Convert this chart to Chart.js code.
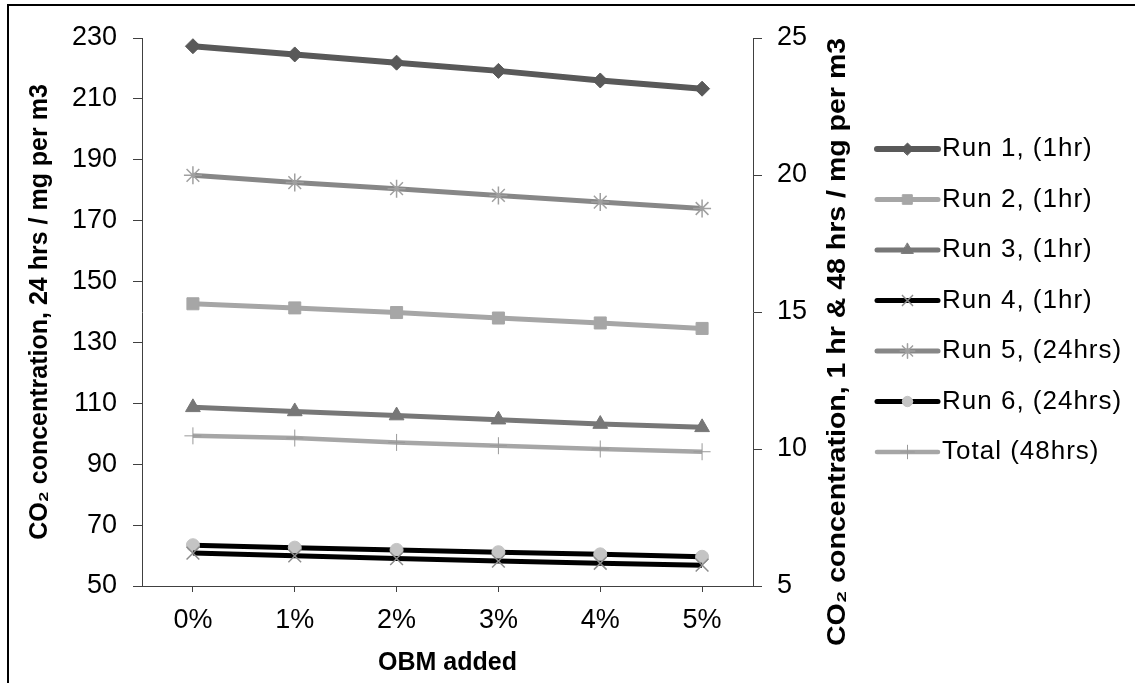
<!DOCTYPE html>
<html>
<head>
<meta charset="utf-8">
<title>CO2 concentration vs OBM added</title>
<script src="https://cdn.jsdelivr.net/npm/chart.js@4.4.1/dist/chart.umd.min.js"></script>
<style>
    html, body { margin: 0; padding: 0; background: #fff; }
    #wrap { width: 1135px; height: 683px; }
</style>
</head>
<body>
<div id="wrap"><canvas id="co2Chart" width="1135" height="683"></canvas></div>
<script>
    // Categories (OBM added)
    const categories = ['0%', '1%', '2%', '3%', '4%', '5%'];

    // 1 hr / 48 hrs series -> right axis
    const run1 = [24.7, 24.4, 24.1, 23.8, 23.45, 23.15];
    const run2 = [15.3, 15.15, 14.98, 14.78, 14.6, 14.4];
    const run3 = [11.52, 11.37, 11.22, 11.07, 10.91, 10.79];
    const run4 = [6.2, 6.1, 6.0, 5.91, 5.83, 5.76];
    const total48 = [10.48, 10.4, 10.24, 10.12, 10.0, 9.9];

    // 24 hrs series -> left axis
    const run5 = [184.9, 182.5, 180.5, 178.3, 176.1, 174.0];
    const run6 = [63.4, 62.6, 61.85, 61.1, 60.4, 59.6];

    // Axis ranges: [min, max, step]
    const leftAxisTicks = [50, 230, 20];
    const rightAxisTicks = [5, 25, 5];

    const leftTitle = 'CO\u2082 concentration, 24 hrs / mg per m3';
    const rightTitle = 'CO\u2082 concentration, 1 hr & 48 hrs / mg per m3';
    const xTitle = 'OBM added';

    const FONT = 'Liberation Sans, Arial, sans-serif';
    const AXIS = '#404040';

    function series(label, data, axis, line, width, style, radius, fill, stroke, pw) {
        return {
            label: label,
            data: data,
            yAxisID: axis,
            borderColor: line,
            borderWidth: width,
            pointStyle: style,
            pointRadius: radius,
            pointBackgroundColor: fill,
            pointBorderColor: stroke,
            pointBorderWidth: pw,
            tension: 0,
            fill: false
        };
    }

    const datasets = [
        series('Run 1, (1hr)', run1, 'yR', '#595959', 6, 'rectRot', 7.5, '#595959', '#595959', 1),
        series('Run 2, (1hr)', run2, 'yR', '#a6a6a6', 5, 'rect', 8.5, '#a6a6a6', '#a6a6a6', 1),
        series('Run 3, (1hr)', run3, 'yR', '#777777', 5, 'triangle', 8.5, '#777777', '#777777', 1),
        series('Run 4, (1hr)', run4, 'yR', '#000000', 5, 'crossRot', 9, '#8c8c8c', '#8c8c8c', 1.5),
        series('Run 5, (24hrs)', run5, 'yL', '#878787', 5, 'star', 9, '#a0a0a0', '#a0a0a0', 1.5),
        series('Run 6, (24hrs)', run6, 'yL', '#000000', 5, 'circle', 6.5, '#c4c4c4', '#c4c4c4', 1),
        series('Total (48hrs)', total48, 'yR', '#a6a6a6', 4.5, 'cross', 8.5, '#999999', '#999999', 1)
    ];

    // Frame, right-hand title and the side legend
    const decorPlugin = {
        id: 'decor',
        beforeDraw(chart) {
            const ctx = chart.ctx;
            ctx.save();
            ctx.fillStyle = '#fff';
            ctx.fillRect(0, 0, chart.width, chart.height);
            ctx.strokeStyle = '#000';
            ctx.lineWidth = 2;
            ctx.beginPath();
            ctx.moveTo(8, chart.height + 5);
            ctx.lineTo(8, 5);
            ctx.lineTo(chart.width + 5, 5);
            ctx.stroke();
            ctx.restore();
        },
        afterDraw(chart) {
            const ctx = chart.ctx;

            // right axis title, reading bottom to top (slightly wider, like the original)
            ctx.save();
            ctx.translate(838, 342);
            ctx.rotate(-Math.PI / 2);
            ctx.scale(1.14, 1);
            ctx.font = 'bold 25px ' + FONT;
            ctx.fillStyle = '#000';
            ctx.textAlign = 'center';
            ctx.textBaseline = 'middle';
            ctx.fillText(rightTitle, 0, 0);
            ctx.restore();

            // legend
            const x0 = 877, x1 = 938, tx = 942;
            chart.data.datasets.forEach((ds, i) => {
                const y = 149 + i * 50.5;
                ctx.save();
                ctx.strokeStyle = ds.borderColor;
                ctx.lineWidth = ds.borderWidth;
                ctx.lineCap = 'round';
                ctx.beginPath();
                ctx.moveTo(x0, y);
                ctx.lineTo(x1, y);
                ctx.stroke();
                if (Chart.helpers && Chart.helpers.drawPoint) {
                    ctx.fillStyle = ds.pointBackgroundColor;
                    ctx.strokeStyle = ds.pointBorderColor;
                    ctx.lineWidth = ds.pointBorderWidth;
                    Chart.helpers.drawPoint(ctx, {
                        pointStyle: ds.pointStyle,
                        radius: ds.pointRadius * 0.8,
                        borderWidth: ds.pointBorderWidth,
                        rotation: 0
                    }, (x0 + x1) / 2, y);
                }
                ctx.font = '26px ' + FONT;
                ctx.letterSpacing = '1px';
                ctx.fillStyle = '#000';
                ctx.textAlign = 'left';
                ctx.textBaseline = 'middle';
                ctx.fillText(ds.label, tx, y);
                ctx.restore();
            });
        }
    };

    const ctx = document.getElementById('co2Chart').getContext('2d');
    const chart = new Chart(ctx, {
        type: 'line',
        data: {
            labels: categories,
            datasets: datasets
        },
        options: {
            responsive: false,
            animation: false,
            devicePixelRatio: 1,
            layout: {
                padding: { left: 0, top: 38, right: 265, bottom: 0 }
            },
            plugins: {
                legend: { display: false },
                tooltip: { enabled: false }
            },
            scales: {
                x: {
                    offset: true,
                    afterFit: (scale) => { scale.height = 97; },
                    grid: {
                        offset: false,
                        drawOnChartArea: false,
                        tickLength: 6,
                        color: AXIS
                    },
                    border: { color: AXIS, width: 1 },
                    ticks: {
                        padding: 12,
                        color: '#000',
                        font: { family: FONT, size: 27 }
                    },
                    title: {
                        display: true,
                        text: xTitle,
                        color: '#000',
                        font: { family: FONT, size: 25, weight: 'bold' },
                        padding: { top: 0, bottom: 5 }
                    }
                },
                yL: {
                    position: 'left',
                    min: leftAxisTicks[0],
                    max: leftAxisTicks[1],
                    afterFit: (scale) => { scale.width = 142; },
                    grid: {
                        drawOnChartArea: false,
                        tickLength: 9,
                        color: AXIS
                    },
                    border: { color: AXIS, width: 1 },
                    ticks: {
                        stepSize: leftAxisTicks[2],
                        padding: 16,
                        color: '#000',
                        font: { family: FONT, size: 27 }
                    },
                    title: {
                        display: true,
                        text: leftTitle,
                        color: '#000',
                        font: { family: FONT, size: 25, weight: 'bold' },
                        padding: { top: 25, bottom: 0 }
                    }
                },
                yR: {
                    position: 'right',
                    min: rightAxisTicks[0],
                    max: rightAxisTicks[1],
                    afterFit: (scale) => { scale.width = 117; },
                    grid: {
                        drawOnChartArea: false,
                        tickLength: 9,
                        color: AXIS
                    },
                    border: { color: AXIS, width: 1 },
                    ticks: {
                        stepSize: rightAxisTicks[2],
                        padding: 15,
                        color: '#000',
                        font: { family: FONT, size: 27 }
                    }
                }
            }
        },
        plugins: [decorPlugin]
    });
</script>
</body>
</html>
